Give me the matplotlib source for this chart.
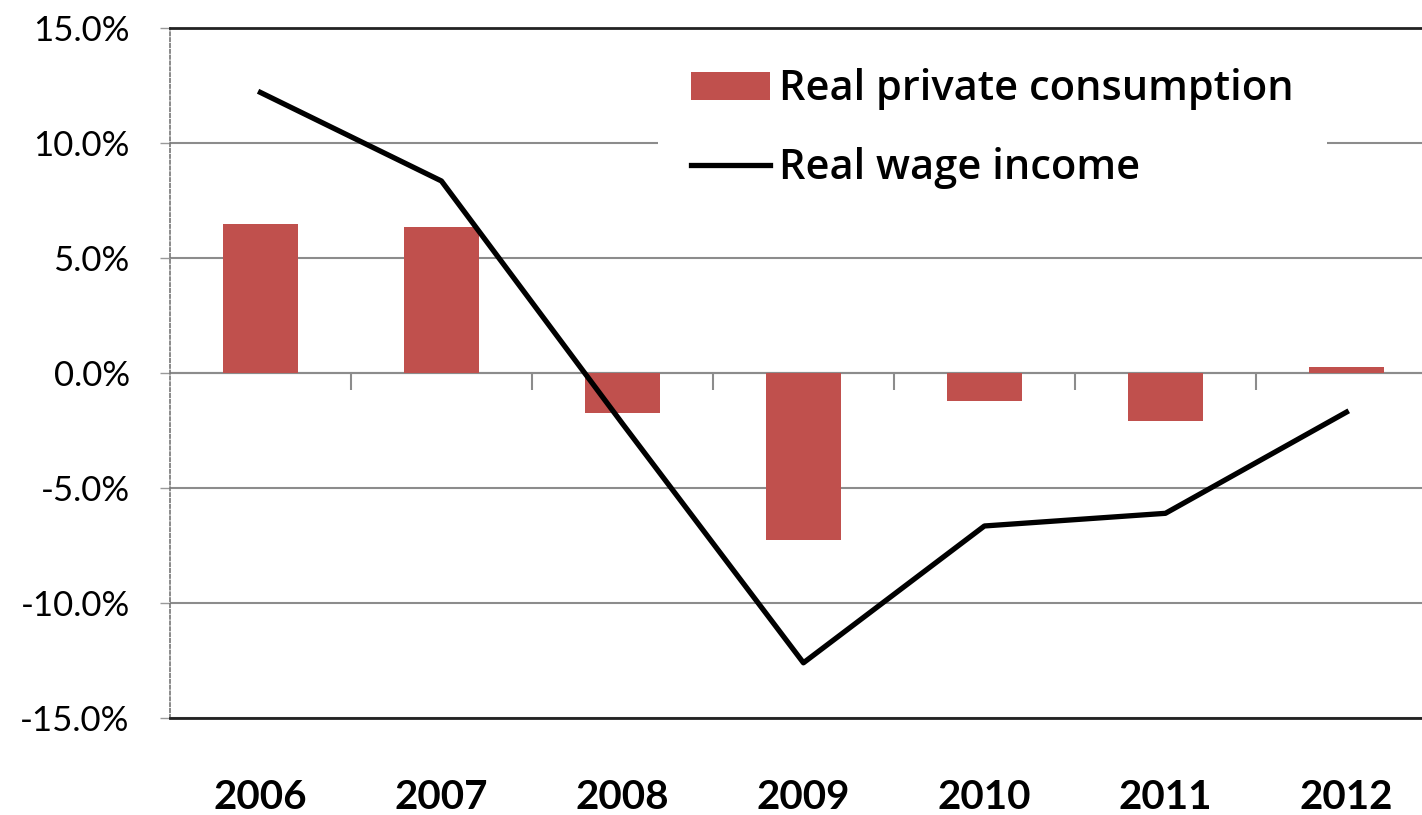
import matplotlib.pyplot as plt
import numpy as np
from matplotlib.ticker import PercentFormatter

years = ["2006", "2007", "2008", "2009", "2010", "2011", "2012"]
private_consumption = [6.5, 6.35, -1.75, -7.25, -1.2, -2.1, 0.25]
wage_income = [12.2, 8.35, -2.2, -12.6, -6.65, -6.1, -1.7]

plt.rcParams["font.family"] = ["Lato", "DejaVu Sans"]
plt.rcParams["axes.unicode_minus"] = False

fig = plt.figure(figsize=(14.22, 8.15), dpi=100)
ax = fig.add_axes([0.1195, 0.119, 1.0105 - 0.1195, 0.9656 - 0.119])

x = np.arange(len(years))
bars = ax.bar(x, private_consumption, width=0.41, color="#C0504D",
              label="Real private consumption", zorder=2)
line, = ax.plot(x, wage_income, color="black", linewidth=3.8,
                label="Real wage income", zorder=3)

ax.set_xlim(-0.5, len(years) - 0.5)
ax.set_ylim(-15, 15)
ax.set_yticks(np.arange(-15, 15.1, 5))
ax.yaxis.set_major_formatter(PercentFormatter(decimals=1))

ax.grid(axis="y", color="#8c8c8c", linewidth=1.5, zorder=0)
ax.axhline(0, color="#8c8c8c", linewidth=1.5, zorder=1)

# category separators hanging below the zero line
ax.vlines(x[:-1] + 0.5, -0.75, 0, color="#8c8c8c", linewidth=1.5, zorder=1)

ax.spines["left"].set_linestyle((0, (2, 1.5)))
ax.spines["left"].set_color("#777777")
ax.spines["left"].set_linewidth(1.2)
ax.spines["right"].set_visible(False)
for side in ("top", "bottom"):
    ax.spines[side].set_color("#222222")
    ax.spines[side].set_linewidth(2)

ax.set_xticks(x)
ax.set_xticklabels(years, fontsize=29, fontweight="bold")
ax.tick_params(axis="x", length=0, pad=44)
ax.tick_params(axis="y", labelsize=25, length=7, width=1, color="#999999", pad=22)

leg = ax.legend([bars, line], ["Real private consumption", "Real wage income"],
                loc="upper left", bbox_to_anchor=(0.385, 0.99),
                prop={"family": "Open Sans", "size": 30, "weight": "semibold"},
                frameon=True, fancybox=False, edgecolor="none", framealpha=1,
                handlelength=1.9, handleheight=0.65, handletextpad=0.22,
                labelspacing=0.88, borderpad=0.8, borderaxespad=0)
leg.set_zorder(5)

fig.savefig("out.png", dpi=100, facecolor="white")
